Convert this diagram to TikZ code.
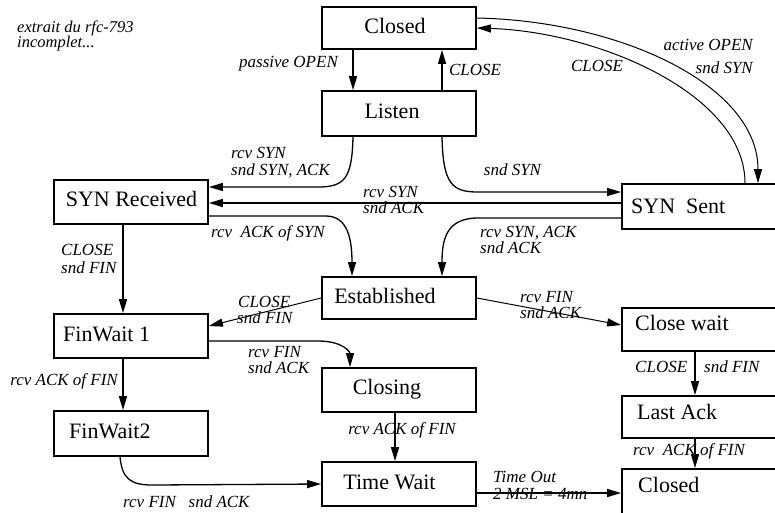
\documentclass[tikz,border=0pt]{standalone}
\usepackage{fontspec}
\setmainfont{Liberation Serif}
\usetikzlibrary{arrows.meta}
\begin{document}
\begin{tikzpicture}[x=1pt,y=-1pt,
  box/.style={draw, line width=1.8pt, rectangle, inner sep=0pt, minimum width=154pt},
  rbox/.style={box, minimum width=158pt},
  st/.style={font=\fontsize{22}{24}\selectfont, inner sep=0pt},
  lb/.style={font=\fontsize{17}{17}\selectfont\itshape, inner sep=0pt},
  tip/.style={-{Triangle[length=14pt,width=8pt]}},
  arr/.style={tip, line width=1.6pt},
  carr/.style={tip, line width=1pt},
  marr/.style={tip, line width=1.3pt}]
\useasboundingbox (0,0) rectangle (775,512);
\fill[white] (0,0) rectangle (775,512);

% states
\node[box, minimum height=42pt] (closed) at (399,28) {};
\node[box, minimum height=45pt] (listen) at (399,113.5) {};
\node[box, minimum height=44pt] (synrec) at (131,202) {};
\node[rbox, minimum height=45pt] (synsent) at (701,206.5) {};
\node[box, minimum height=42pt] (estab) at (399,298) {};
\node[box, minimum height=44pt] (fw1) at (131,336) {};
\node[box, minimum height=44pt] (closing) at (399,390) {};
\node[rbox, minimum height=43pt] (closewait) at (701,329.5) {};
\node[box, minimum height=45pt] (fw2) at (131,433.5) {};
\node[rbox, minimum height=42pt] (lastack) at (701,417) {};
\node[box, minimum height=44pt] (timewait) at (399,484) {};
\node[rbox, minimum height=56pt] (closedb) at (701,497) {};

% state texts
\node[st, anchor=base] (closedT) at (395,33) {Closed};
\node[st, anchor=base] (listenT) at (392,118) {Listen};
\node[st, anchor=base] (synrecT) at (131.5,206) {SYN Received};
\node[st, anchor=base west] (synsentT) at (631,213) {SYN~ Sent};
\node[st, anchor=base] (estabT) at (385,303) {Established};
\node[st, anchor=base west] (fw1T) at (63,341) {FinWait 1};
\node[st, anchor=base] (closingT) at (387,394) {Closing};
\node[st, anchor=base west] (closewaitT) at (635,330) {Close wait};
\node[st, anchor=base west] (fw2T) at (69,438) {FinWait2};
\node[st, anchor=base west] (lastackT) at (637,419) {Last Ack};
\node[st, anchor=base] (timewaitT) at (389.5,489) {Time Wait};
\node[st, anchor=base west] (closedbT) at (638,492) {Closed};

% connectors
\draw[arr] ([xshift=-46pt]closed.south) -- ([xshift=-46pt]listen.north);
\draw[arr] ([xshift=43pt]listen.north) -- ([xshift=43pt]closed.south);
\draw[carr] ([yshift=10pt]closed.east) .. controls (620,21) and (758,85) .. ([xshift=57pt]synsent.north);
\draw[carr] ([xshift=44pt]synsent.north) .. controls (745,95) and (600,32) .. (closed.east);
\draw[marr] ([xshift=-46pt]listen.south) .. controls (352,178) and (345,187) .. (318,187) -- ([yshift=15pt]synrec.east);
\draw[marr] ([xshift=43pt]listen.south) .. controls (443,184) and (452,192) .. (478,192) -- ([yshift=14.5pt]synsent.west);
\draw[arr] ([yshift=3.5pt]synsent.west) -- ([yshift=-1pt]synrec.east);
\draw[marr] ([yshift=-11.5pt]synsent.west) -- (476,218) .. controls (446,219) and (442,240) .. ([xshift=43pt]estab.north);
\draw[marr] ([yshift=-14pt]synrec.east) -- (326,216) .. controls (348,216) and (352,240) .. ([xshift=-47pt]estab.north);
\draw[arr] ([xshift=-8pt]synrec.south) -- ([xshift=-8pt]fw1.north);
\draw[carr] (estab.west) -- ([yshift=10pt]fw1.east);
\draw[carr] (estab.east) -- ([yshift=4.5pt]closewait.west);
\draw[marr] ([yshift=-5pt]fw1.east) -- (318,341) .. controls (343,341) and (350,352) .. ([xshift=-49pt]closing.north);
\draw[arr] ([xshift=-8pt]fw1.south) -- ([xshift=-8pt]fw2.north);
\draw[arr] ([xshift=-4pt]closing.south) -- ([xshift=-4pt]timewait.north);
\draw[marr] ([xshift=-11pt]fw2.south) .. controls (122,478) and (130,485) .. (152,485) -- (timewait.west);
\draw[arr] ([yshift=-9pt]timewait.east) coordinate (twout) -- (twout -| closedb.west);
\draw[arr] ([xshift=-6pt]closewait.south) -- ([xshift=-6pt]lastack.north);
\draw[arr] ([xshift=-6pt]lastack.south) -- ([xshift=-6pt]closedb.north);

% labels
\node[lb, font=\fontsize{16.5}{15}\selectfont\itshape, align=left, anchor=north west] (note) at (17,21) {extrait du rfc-793\\incomplet...};
\node[lb, anchor=base] (l1) at (288.5,67) {passive OPEN};
\node[lb, anchor=base] (l2) at (475,75) {CLOSE};
\node[lb, anchor=base] (l3) at (597,71) {CLOSE};
\node[lb, anchor=base east] (l4a) at (753,50) {active OPEN};
\node[lb, anchor=base east] (l4b) at (753,73) {snd SYN};
\node[lb, anchor=base west] (l5a) at (231,158) {rcv SYN};
\node[lb, anchor=base west] (l5b) at (231,175) {snd SYN, ACK};
\node[lb, anchor=base] (l6) at (512.5,175) {snd SYN};
\node[lb, anchor=base west] (l7a) at (363,197) {rcv SYN};
\node[lb, anchor=base west] (l7b) at (363,213) {snd ACK};
\node[lb, anchor=base] (l8) at (268,237) {rcv~ ACK of SYN};
\node[lb, anchor=base west] (l9a) at (480,237) {rcv SYN, ACK};
\node[lb, anchor=base west] (l9b) at (480,253) {snd ACK};
\node[lb, anchor=base west] (l10a) at (61,255) {CLOSE};
\node[lb, anchor=base west] (l10b) at (61,273) {snd FIN};
\node[lb, anchor=base west] (l11a) at (238,307) {CLOSE};
\node[lb, anchor=base west] (l11b) at (237,323) {snd FIN};
\node[lb, anchor=base west] (l12a) at (520,302) {rcv FIN};
\node[lb, anchor=base west] (l12b) at (520,318) {snd ACK};
\node[lb, anchor=base west] (l13a) at (248,357) {rcv FIN};
\node[lb, anchor=base west] (l13b) at (248,373) {snd ACK};
\node[lb, anchor=base east] (l14) at (118,385) {rcv ACK of FIN};
\node[lb, anchor=base west] (l15a) at (635,372) {CLOSE};
\node[lb, anchor=base west] (l15b) at (704,372) {snd FIN};
\node[lb, anchor=base] (l16) at (402,434) {rcv ACK of FIN};
\node[lb, anchor=base west] (l17) at (633,455) {rcv~ ACK of FIN};
\node[lb, anchor=base west] (l18a) at (493,482) {Time Out};
\node[lb, anchor=base west] (l18b) at (493,499) {2 MSL = 4mn};
\node[lb, anchor=base west] (l19) at (123,507) {rcv FIN~~ snd ACK};
\end{tikzpicture}
\end{document}
